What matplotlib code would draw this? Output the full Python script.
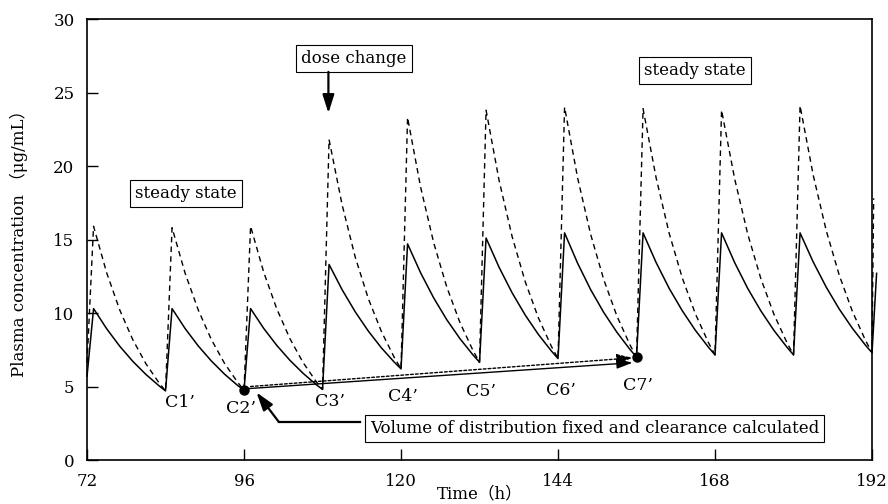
import matplotlib.pyplot as plt

plt.rcParams['font.family'] = ['DejaVu Serif', 'Noto Sans CJK JP']
plt.rcParams['font.size'] = 12

# time grid (h): trough, peak, then decay every 2 h for each 12 h dose
hours = [72, 73, 75, 77, 79, 81, 83,
         84, 85, 87, 89, 91, 93, 95,
         96, 97, 99, 101, 103, 105, 107,
         108, 109, 111, 113, 115, 117, 119,
         120, 121, 123, 125, 127, 129, 131,
         132, 133, 135, 137, 139, 141, 143,
         144, 145, 147, 149, 151, 153, 155,
         156, 157, 159, 161, 163, 165, 167,
         168, 169, 171, 173, 175, 177, 179,
         180, 181, 183, 185, 187, 189, 191,
         192]

# solid line (ug/mL)
conc_solid = [5.7, 10.3, 8.93, 7.74, 6.71, 5.82, 5.05,
              4.7, 10.3, 8.94, 7.76, 6.74, 5.85, 5.08,
              4.75, 10.3, 8.96, 7.80, 6.79, 5.91, 5.14,
              4.8, 13.3, 11.58, 10.08, 8.77, 7.63, 6.64,
              6.2, 14.7, 12.73, 11.02, 9.54, 8.26, 7.15,
              6.65, 15.1, 13.10, 11.36, 9.85, 8.54, 7.41,
              6.9, 15.45, 13.38, 11.58, 10.03, 8.69, 7.52,
              7.0, 15.45, 13.43, 11.67, 10.15, 8.82, 7.67,
              7.15, 15.45, 13.43, 11.67, 10.15, 8.82, 7.67,
              7.15, 15.45, 13.48, 11.76, 10.26, 8.96, 7.81,
              7.3]
solid_tail_t = [192.7]
solid_tail = [12.7]

# dashed line (ug/mL)
conc_dashed = [6.6, 15.9, 12.74, 10.21, 8.18, 6.55, 5.25,
               4.7, 15.8, 12.70, 10.21, 8.20, 6.59, 5.30,
               4.75, 15.9, 12.79, 10.29, 8.27, 6.65, 5.35,
               4.8, 21.8, 17.35, 13.80, 10.98, 8.74, 6.95,
               6.2, 23.3, 18.55, 14.77, 11.76, 9.36, 7.45,
               6.65, 23.8, 19.00, 15.17, 12.11, 9.67, 7.72,
               6.9, 24.0, 19.18, 15.33, 12.26, 9.80, 7.83,
               7.0, 23.9, 19.19, 15.41, 12.38, 9.94, 7.98,
               7.15, 23.8, 19.13, 15.37, 12.35, 9.92, 7.98,
               7.15, 24.1, 19.40, 15.61, 12.56, 10.11, 8.14,
               7.3]
dashed_tail_t = [192.25]
dashed_tail = [17.8]

trough_labels = ['C1’', 'C2’', 'C3’', 'C4’', 'C5’', 'C6’', 'C7’']
xticks = [72, 96, 120, 144, 168, 192]
yticks = [0, 5, 10, 15, 20, 25, 30]

fig = plt.figure(figsize=(8.88, 5.04), dpi=100)
ax = fig.add_axes([0.098, 0.0873, 0.884, 0.875])

ax.plot(hours + solid_tail_t, conc_solid + solid_tail, color='black', lw=1.1,
        clip_on=False)
ax.plot(hours + dashed_tail_t, conc_dashed + dashed_tail, color='black', lw=1.0,
        dashes=(4, 3), clip_on=False)

# C2' -> C7' arrows
ax.annotate('', xy=(155.4, 6.62), xytext=(96.4, 4.85),
            arrowprops=dict(arrowstyle='-|>,head_width=0.25,head_length=0.8',
                            color='black', lw=1.0, shrinkA=0, shrinkB=0))
ax.annotate('', xy=(155.4, 6.95), xytext=(97.0, 5.0),
            arrowprops=dict(arrowstyle='-|>,head_width=0.25,head_length=0.8',
                            color='black', lw=1.0, ls=(0, (2, 1.5)),
                            shrinkA=0, shrinkB=0))
ax.plot([96, 156], [4.75, 7.0], 'o', color='black', ms=6.5, clip_on=False)

label_pos = [(86.2, 3.9), (95.6, 3.5), (109.1, 3.95), (120.3, 4.3),
             (132.3, 4.65), (144.5, 4.7), (156.2, 5.1)]
for lab, (tx, ty) in zip(trough_labels, label_pos):
    ax.text(tx, ty, lab, ha='center', va='center', fontsize=12.5)

box = dict(boxstyle='square,pad=0.3', fc='white', ec='black', lw=0.8)
ax.text(87.1, 18.1, 'steady state', ha='center', va='center', bbox=box)
ax.text(164.9, 26.48, 'steady state', ha='center', va='center', bbox=box)
ax.text(112.8, 27.3, 'dose change', ha='center', va='center', bbox=box)
ax.text(149.6, 2.14, 'Volume of distribution fixed and clearance calculated',
        ha='center', va='center', bbox=box, zorder=5)

ax.annotate('', xy=(108.9, 23.6), xytext=(108.9, 26.4),
            arrowprops=dict(arrowstyle='-|>,head_width=0.35,head_length=1.1',
                            color='black', lw=1.6, shrinkA=0, shrinkB=0,
                            mutation_scale=10))
ax.plot([113.7, 101.3], [2.6, 2.6], color='black', lw=1.6)
ax.annotate('', xy=(97.9, 4.6), xytext=(101.3, 2.6),
            arrowprops=dict(arrowstyle='-|>,head_width=0.35,head_length=1.1',
                            color='black', lw=1.6, shrinkA=0, shrinkB=0,
                            mutation_scale=10))

ax.set_xlim(72, 192)
ax.set_ylim(0, 30)
ax.set_xticks(xticks)
ax.set_yticks(yticks)
ax.tick_params(direction='in', length=8, width=1, pad=9, labelsize=12)
for s in ax.spines.values():
    s.set_linewidth(1.2)

ax.set_xlabel('Time（h）', labelpad=-3)
ax.set_ylabel('Plasma concentration （μg/mL）', labelpad=18)

fig.savefig('out.png', dpi=100)
